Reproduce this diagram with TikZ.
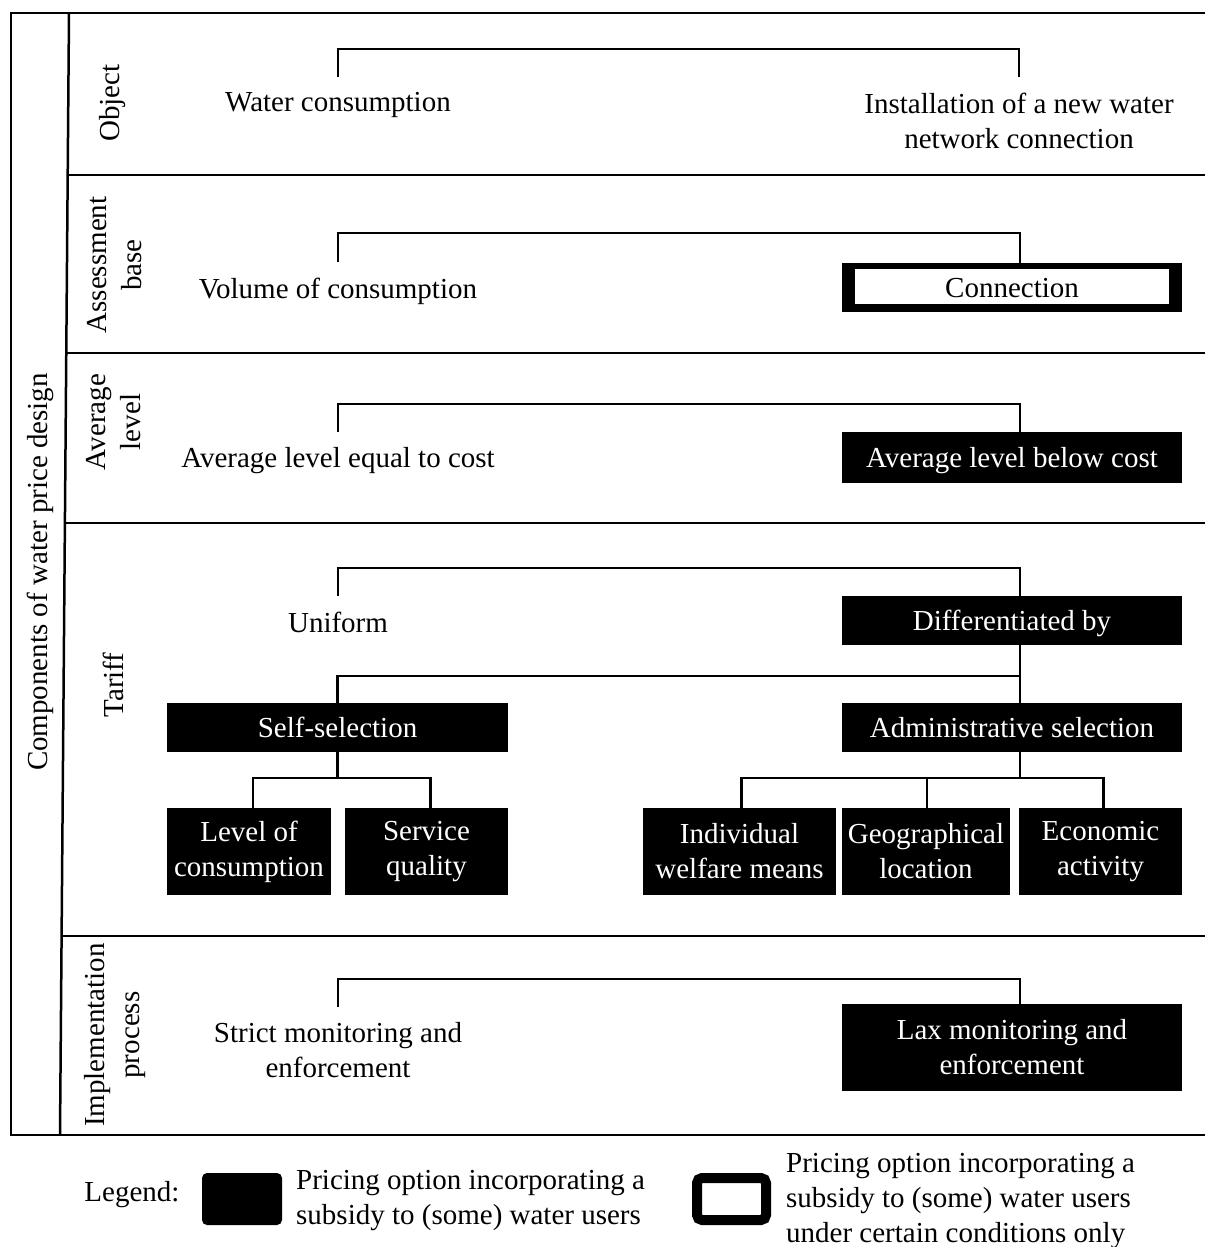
\documentclass[tikz,border=0pt]{standalone}
\usepackage{fontspec}
\setmainfont{Liberation Serif}
\begin{document}
\begin{tikzpicture}[x=1pt,y=-1pt,
  every node/.style={font=\fontsize{29}{35}\selectfont},
  lbl/.style={align=center, inner sep=0},
  opt/.style={align=center, inner ysep=15.5pt, inner xsep=0, anchor=north},
  blk/.style={fill=black, text=white, align=center, inner sep=0},
  sblk/.style={blk, text height=22pt, text depth=2.5pt},
  frame/.style={line width=2.5pt, line join=miter},
  conn/.style={line width=2.5pt},
]
\useasboundingbox (0,0) rectangle (1205,1247);
% frame
\draw[frame] (1205,13) -- (11,13) -- (11,1135) -- (1205,1135);
\draw[frame] (69,13) -- (60,1135);
\draw[frame] (67.7,175) -- (1205,175);
\draw[frame] (66.3,353) -- (1205,353);
\draw[frame] (64.9,523) -- (1205,523);
\draw[frame] (61.6,936) -- (1205,936);
% side labels
\node[lbl, rotate=90] (comp) at (40,572) {Components of water price design};
\node[lbl, rotate=90] (robj) at (113,103) {Object};
\node[lbl, rotate=90] (rass) at (115,265) {Assessment\\base};
\node[lbl, rotate=90] (ravg) at (114,422) {Average\\level};
\node[lbl, rotate=90] (rtar) at (113,685) {Tariff};
\node[lbl, rotate=90] (rimp) at (115,1035) {Implementation\\process};
% object
\node[opt] (wc) at (338,77) {Water consumption};
\node[opt] (inst) at (1019,77) {Installation of a new water\\network connection};
\draw[conn] (wc.north) -- ++(0,-28) -| (inst.north);
% assessment base
\node[opt] (vol) at (338,262) {Volume of consumption};
\node[sblk, text=black, minimum width=340pt, minimum height=49pt,
  path picture={\fill[white] ([xshift=13pt,yshift=-6pt]path picture bounding box.north west) rectangle ([xshift=-13pt,yshift=8pt]path picture bounding box.south east);}]
  (cn) at (1012,287.5) {Connection};
\draw[conn] (vol.north) -- ++(0,-29) -| ([xshift=8pt]cn.north);
% average level
\node[opt] (eq) at (338,432) {Average level equal to cost};
\node[sblk, minimum width=340pt, minimum height=51pt] (below) at (1012,457.5) {Average level below cost};
\draw[conn] (eq.north) -- ++(0,-28) -| ([xshift=8pt]below.north);
% tariff
\node[opt] (uni) at (338,596) {Uniform};
\node[sblk, minimum width=340pt, minimum height=49pt] (diff) at (1012,620.5) {Differentiated by};
\draw[conn] (uni.north) -- ++(0,-28) -| ([xshift=8pt]diff.north);
\node[sblk, minimum width=341pt, minimum height=49pt] (self) at (337.5,727.5) {Self-selection};
\node[sblk, minimum width=340pt, minimum height=49pt] (admin) at (1012,727.5) {Administrative selection};
\draw[conn] ([xshift=8pt]diff.south) -- ([xshift=8pt]admin.north);
\draw[conn] ([xshift=8pt]diff.south) ++(0,31) -| (self.north);
\node[blk, minimum width=164pt, minimum height=87pt] (lvl) at (249,851.5) {Level of\\consumption};
\node[blk, minimum width=163pt, minimum height=87pt] (svc) at (426.5,851.5) {Service\\quality};
\node[blk, minimum width=193pt, minimum height=87pt] (ind) at (739.5,851.5) {Individual\\welfare means};
\node[blk, minimum width=168pt, minimum height=87pt] (geo) at (926,851.5) {Geographical\\location};
\node[blk, minimum width=163pt, minimum height=87pt] (eco) at (1100.5,851.5) {Economic\\activity};
\draw[conn] (self.south) -- ++(0,26) -| ([xshift=4pt]lvl.north);
\draw[conn] (self.south) ++(0,26) -| ([xshift=4pt]svc.north);
\draw[conn] ([xshift=8pt]admin.south) -- ++(0,26) -| ([xshift=2pt]ind.north);
\draw[conn] ([xshift=8pt]admin.south) ++(0,26) -| ([xshift=3pt]eco.north);
\draw[conn] ([xshift=1pt]geo.north) -- ++(0,-30);
% implementation
\node[opt] (strict) at (338,1007) {Strict monitoring and\\enforcement};
\node[blk, minimum width=340pt, minimum height=87pt] (lax) at (1012,1047.5) {Lax monitoring and\\enforcement};
\draw[conn] (strict.north) -- ++(0,-28) -| ([xshift=8pt]lax.north);
% legend
\node[lbl] (leg) at (132,1195) {Legend:};
\node[fill=black, rounded corners=5pt, minimum width=80pt, minimum height=52pt, inner sep=0] (lb1) at (242,1199) {};
\node[lbl, align=left, anchor=west] (lt1) at (296,1201) {Pricing option incorporating a\\subsidy to (some) water users};
\node[draw, fill=white, line width=10pt, rounded corners=5pt, minimum width=69pt, minimum height=42pt, inner sep=0] (lb2) at (731.5,1199) {};
\node[lbl, align=left, anchor=west] (lt2) at (786,1201) {Pricing option incorporating a\\subsidy to (some) water users\\under certain conditions only};
\end{tikzpicture}
\end{document}
